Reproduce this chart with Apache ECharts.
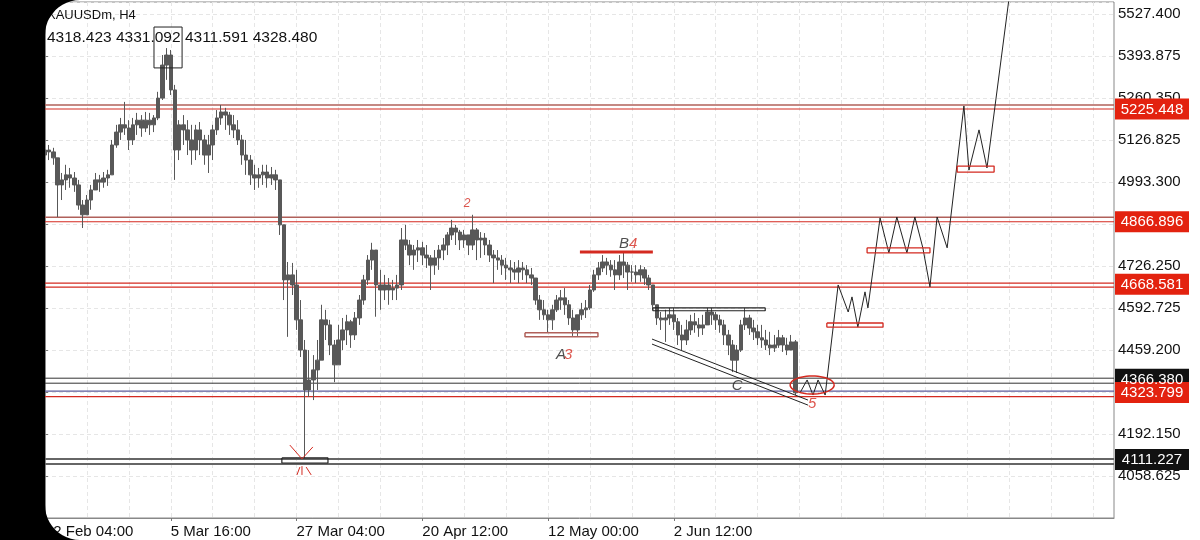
<!DOCTYPE html>
<html>
<head>
<meta charset="utf-8">
<script src="https://cdn.jsdelivr.net/npm/echarts@6/dist/echarts.min.js"></script>
<style>
html,body{margin:0;padding:0;background:#fff;}
#c{width:1200px;height:540px;}
</style>
</head>
<body>
<div id="c"></div>
<script>
// ---------- DATA ----------
const xTickLabels = ['12 Feb 04:00','5 Mar 16:00','27 Mar 04:00','20 Apr 12:00','12 May 00:00','2 Jun 12:00'];
const firstOpen = 5079;
const priceClose = [5095,5089,5070,4984,5000,5016,5006,4984,4920,4889,
 4936,4968,5000,4993,5006,5016,5111,5152,5175,5165,
 5127,5175,5190,5165,5190,5175,5197,5260,5365,5397,
 5286,5095,5175,5159,5127,5095,5159,5127,5079,5111,
 5159,5197,5216,5206,5175,5159,5127,5079,5063,5016,
 5006,5016,5025,5006,5016,5000,4857,4682,4698,4666,
 4555,4459,4332,4364,4396,4427,4555,4539,4475,4412,
 4491,4523,4549,4507,4561,4618,4682,4745,4777,4666,
 4650,4666,4650,4656,4666,4809,4793,4761,4777,4784,
 4761,4752,4729,4752,4777,4793,4825,4847,4834,4809,
 4825,4793,4841,4809,4815,4793,4761,4752,4745,4729,
 4720,4714,4707,4720,4714,4698,4688,4618,4587,4571,
 4555,4587,4618,4625,4603,4561,4523,4571,4587,4593,
 4650,4698,4720,4739,4729,4714,4698,4739,4729,4707,
 4707,4698,4714,4688,4666,4603,4561,4555,4561,4571,
 4549,4507,4491,4523,4549,4539,4529,4539,4580,4571,
 4555,4539,4507,4475,4427,4459,4539,4561,4529,4517,
 4498,4491,4475,4466,4475,4498,4475,4459,4485,4323];
const priceHigh = [5105,5111,5102,5048,5022,5048,5038,5025,5000,4936,
 4952,4984,5022,5016,5025,5032,5127,5175,5197,5248,
 5190,5197,5213,5206,5216,5213,5206,5280,5397,5419,
 5413,5302,5190,5206,5190,5175,5175,5184,5143,5143,
 5175,5222,5238,5229,5216,5206,5190,5143,5127,5079,
 5048,5038,5048,5048,5041,5032,4984,4857,4739,4736,
 4714,4618,4491,4459,4443,4491,4603,4587,4555,4491,
 4539,4561,4571,4555,4580,4634,4698,4761,4800,4777,
 4714,4698,4688,4682,4698,4847,4857,4809,4793,4809,
 4803,4793,4761,4777,4793,4815,4834,4873,4857,4841,
 4841,4825,4889,4847,4834,4831,4809,4777,4777,4761,
 4752,4745,4739,4745,4739,4729,4720,4682,4634,4618,
 4587,4603,4634,4650,4656,4618,4587,4571,4609,4618,
 4666,4714,4739,4761,4752,4745,4745,4761,4771,4739,
 4729,4729,4729,4723,4698,4660,4603,4580,4587,4593,
 4593,4561,4539,4555,4571,4577,4561,4571,4593,4593,
 4580,4571,4555,4523,4491,4475,4555,4593,4571,4555,
 4539,4539,4523,4517,4507,4523,4507,4498,4507,4491];
const priceLow = [5054,5063,5048,4882,4936,4968,4975,4962,4905,4847,
 4889,4905,4968,4962,4975,4981,5025,5102,5127,5143,
 5095,5111,5143,5137,5152,5143,5152,5190,5254,5318,
 5270,5000,5063,5111,5079,5048,5063,5079,5048,5022,
 5063,5143,5175,5159,5143,5133,5111,5048,5016,4984,
 4968,4975,4984,4975,4984,4968,4825,4618,4501,4634,
 4523,4437,4113,4310,4300,4332,4475,4491,4443,4357,
 4412,4459,4475,4466,4491,4539,4603,4666,4714,4565,
 4587,4618,4603,4618,4618,4650,4777,4729,4714,4739,
 4729,4720,4650,4698,4714,4745,4761,4809,4793,4777,
 4784,4761,4777,4745,4752,4761,4739,4672,4714,4698,
 4682,4672,4682,4672,4682,4672,4666,4603,4555,4555,
 4514,4523,4580,4587,4571,4539,4504,4504,4555,4561,
 4587,4644,4682,4707,4698,4692,4650,4682,4688,4650,
 4676,4672,4676,4666,4650,4587,4539,4523,4485,4539,
 4523,4475,4459,4475,4507,4514,4501,4507,4555,4539,
 4523,4514,4475,4443,4389,4386,4453,4523,4507,4491,
 4475,4466,4459,4443,4453,4466,4453,4443,4459,4316];

// projected path (bar index, price)
const projIdx   = [180.1,181.8,183.2,184.4,186.1,189.2,191.6,192.5,193.9,195.6,196.3,199.2,201.3,203.2,205.6,207.5,209.4,211.1,212.8,215.2,219.2,220.4,222.8,224.7,230.0];
const projPrice = [4323,4364,4316,4364,4316,4666,4580,4628,4532,4644,4593,4879,4768,4882,4768,4882,4784,4660,4882,4784,5235,5031,5159,5038,5581];

// horizontal levels
const levelPrices = [5225.448, 4866.896, 4668.581, 4366.380, 4323.799, 4111.227];

// annotation shapes [idx0, idx1, price0, price1]
const peakBox = [26.0, 32.7, 5486, 5356];
const a3Box = [114.5, 131.9, 4514, 4501];
const lowBox = [56.5, 67.5, 4116, 4100];
const rangeBox = [145.0, 171.8, 4593, 4584];
const projBoxes = [[186.5,199.9,4545,4532],[196.1,211.1,4784,4768],[217.6,226.4,5044,5025]];
const b4Line = [[127.6,4771],[145.0,4771]];
const channelLines = [[[144.8,4494],[182.0,4300]],[[144.8,4478],[182.0,4284]]];
const starStrokes = [[[58.4,4157],[61.3,4113]],[[63.9,4151],[61.3,4113]],[[60.1,4062],[60.8,4087]],[[61.3,4090],[61.3,4062]],[[62.3,4087],[63.5,4062]]];
const annoText = ['2','B','4','A','3','C','5'];
const annoIdx = [100.7,138.1,140.3,123.1,124.8,165.1,183.0];
const annoPrice = [4924,4796,4796,4443,4443,4345,4287];
const ellipseCenter = [183.0, 4348];

// ---------- BUILD ----------
const FONT = 'Liberation Sans';
const PX = 133.525/42; // price per pixel
const nCat = 256;
const categories = [];
for (let i = 0; i < nCat; i++) categories.push(i % 30 === 0 && xTickLabels[i/30] ? xTickLabels[i/30] : '');

const candles = priceClose.map((c, i) => {
  const o = i === 0 ? firstOpen : priceClose[i-1];
  return [o, c, Math.min(priceLow[i], o, c), Math.max(priceHigh[i], o, c)];
});

const RED = '#d42a20', BROWN = '#b0605a';
const levelStyles = [
  {box:'#e3220f', lines:[[0,RED,1.2],[-4,BROWN,1.5]]},
  {box:'#e3220f', lines:[[0,RED,1.2],[-4.5,BROWN,1.5]]},
  {box:'#e3220f', lines:[[-1,RED,1.2],[3,RED,1.2]]},
  {box:'#111111', lines:[[-1,'#333',1],[4,'#333',1]]},
  {box:'#e3220f', lines:[[-1.5,'#5a5a9a',1.2],[4,RED,1.2]]},
  {box:'#111111', lines:[[-0.5,'#666',2],[4.5,'#666',2]]}
];

function seg(points, color, width, z) {
  return {type:'line', xAxisIndex:1, yAxisIndex:0, data:points, symbol:'none', showSymbol:false,
    lineStyle:{color:color, width:width}, silent:true, animation:false, z: z || 5};
}
function rect(b) { return [[b[0],b[2]],[b[1],b[2]],[b[1],b[3]],[b[0],b[3]],[b[0],b[2]]]; }

const series = [];
levelPrices.forEach((p, k) => {
  levelStyles[k].lines.forEach(l => {
    const v = p - l[0]*PX;
    series.push(seg([[0, v],[nCat-1, v]], l[1], l[2], 2));
  });
});
series.push({
  type:'candlestick', xAxisIndex:0, yAxisIndex:0, data:candles, barWidth:4,
  itemStyle:{color:'#585858', color0:'#585858', borderColor:'#585858', borderColor0:'#585858', borderWidth:1},
  z:3, animation:false, silent:true
});
series.push(seg(projIdx.map((x,i)=>[x,projPrice[i]]), '#222', 1));
series.push(seg(rect(peakBox), '#222', 1));
series.push(seg(rect(a3Box), BROWN, 1.5));
series.push(seg(rect(lowBox), '#222', 1.2));
series.push(seg(rect(rangeBox), '#222', 1.2));
projBoxes.forEach(b => series.push(seg(rect(b), RED, 1.3)));
series.push(seg(b4Line, RED, 3));
channelLines.forEach(l => series.push(seg(l, '#222', 1)));
starStrokes.forEach(l => series.push(seg(l, RED, 1)));
const textColors = [RED,'#222',RED,'#222',RED,'#222',RED];
series.push({
  type:'scatter', xAxisIndex:1, yAxisIndex:0, symbolSize:1, itemStyle:{color:'rgba(0,0,0,0)'}, silent:true, animation:false, z:6,
  data: annoText.map((t,i)=>({value:[annoIdx[i], annoPrice[i]], name:t,
    label:{show:true, position:'inside', formatter:t, color:textColors[i], fontSize: t==='2'?12:15, fontFamily:FONT, fontStyle:'italic'}}))
});

// screen frame (black left edge with rounded corners)
function framePoints() {
  const pts = [[0,0],[80,0]];
  const r = 35;
  for (let k = 1; k <= 12; k++) { const a = Math.PI/2 * k/12; pts.push([80 - r*Math.sin(a), 35 - r*Math.cos(a)]); }
  for (let k = 0; k <= 12; k++) { const a = Math.PI/2 * k/12; pts.push([45 + r - r*Math.cos(a), 505 + r*Math.sin(a)]); }
  pts.push([0,540]);
  return pts;
}
function ellipsePoints(cx, cy, rx, ry) {
  const pts = [];
  for (let k = 0; k <= 48; k++) { const a = 2*Math.PI*k/48; pts.push([cx + rx*Math.cos(a), cy + ry*Math.sin(a)]); }
  return pts;
}

const option = {
  backgroundColor:'#fff',
  animation:false,
  grid:{left:45, right:86, top:2, bottom:22, show:true, borderColor:'#888', borderWidth:1, backgroundColor:'#fff'},
  xAxis:[{
    type:'category', data:categories, boundaryGap:false,
    axisLine:{show:true, lineStyle:{color:'#888'}},
    axisTick:{show:true, length:3, interval:(i)=> i%30===0 && i<=150, lineStyle:{color:'#777'}},
    axisLabel:{show:true, interval:(i)=> i%30===0 && i<=150, align:'left', margin:6, color:'#111', fontSize:15, fontFamily:FONT},
    splitLine:{show:true, interval:(i)=> i%10===0, lineStyle:{color:'#e6e6e6', type:[4,3]}}
  },{
    type:'value', min:0, max:nCat-1, show:false
  }],
  yAxis:{
    type:'value', position:'right', min:3925.1, max:5565.55, interval:133.525,
    axisLine:{show:true, lineStyle:{color:'#888'}},
    axisTick:{show:true, length:3, lineStyle:{color:'#777'}},
    axisLabel:{show:true, margin:4, color:'#111', fontSize:15, fontFamily:FONT, showMinLabel:false, showMaxLabel:false,
      formatter:(v)=>v.toFixed(3)},
    splitLine:{show:true, lineStyle:{color:'#e6e6e6', type:[4,3]}}
  },
  series:series
};

const chart = echarts.init(document.getElementById('c'));
chart.setOption(option);
const ec = chart.convertToPixel({xAxisIndex:1, yAxisIndex:0}, ellipseCenter);
const g = [
  {type:'text', x:47, y:9, z:50, style:{text:'XAUUSDm, H4', fontSize:13, fontFamily:FONT, fill:'#111'}},
  {type:'text', x:47, y:30, z:50, style:{text:'4318.423 4331.092 4311.591 4328.480', fontSize:15.5, fontFamily:FONT, fill:'#111'}},
  {type:'polyline', z:60, shape:{points:ellipsePoints(ec[0], ec[1], 22, 9)}, style:{fill:null, stroke:RED, lineWidth:1.5}}
];
levelPrices.forEach((p, k) => {
  const yy = chart.convertToPixel({yAxisIndex:0}, p);
  g.push({type:'rect', z:70, shape:{x:1115, y:yy-10.5, width:74, height:21}, style:{fill:levelStyles[k].box}});
  g.push({type:'text', z:71, x:1152, y:yy+0.5, style:{text:p.toFixed(3), fill:'#fff', fontSize:15, fontFamily:FONT, align:'center', verticalAlign:'middle'}});
});
g.push({type:'polygon', z:100, shape:{points:framePoints()}, style:{fill:'#000'}});
chart.setOption({graphic:g});
</script>
</body>
</html>
